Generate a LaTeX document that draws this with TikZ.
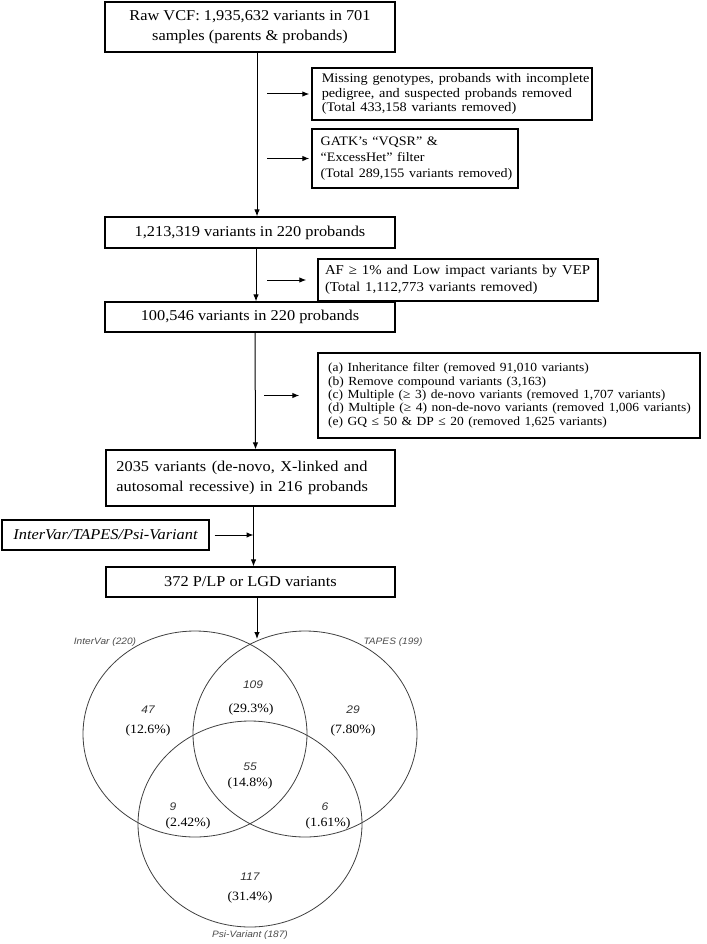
\documentclass[tikz,border=0pt]{standalone}
\usepackage{fontspec}
\setmainfont{Liberation Serif}
\newfontfamily\vsans{Liberation Sans}
\usetikzlibrary{arrows.meta}
\newcommand\fsz[2]{\fontsize{#1}{#2}\selectfont}
\begin{document}
\begin{tikzpicture}[x=1pt,y=-1pt,
  box/.style={draw, line width=1.2pt, inner sep=0pt, xscale=1.09},
  bigtxt/.style={font=\fsz{15}{20}, align=center},
  arr/.style={line width=1pt, -{Latex[length=7pt,width=5.5pt]}},
  venn/.style={line width=0.8pt, draw=black!75},
  vnum/.style={font=\vsans\itshape\fsz{11}{13}, text=black!80, inner sep=0pt, xscale=1.09},
  vpct/.style={font=\fsz{12.7}{14}, inner sep=0pt, xscale=1.09},
  vlab/.style={font=\vsans\itshape\fsz{9.3}{11}, text=black!70, inner sep=0pt, xscale=1.09}
]
\useasboundingbox (0,0) rectangle (706,944);

% main column boxes
\node[box, bigtxt, minimum width=266pt, minimum height=50pt] (b1) at (250,27)
  {Raw VCF: 1,935,632 variants in 701\\samples (parents \& probands)};
\node[box, bigtxt, minimum width=266pt, minimum height=31pt] (b4) at (250,232.5)
  {1,213,319 variants in 220 probands};
\node[box, bigtxt, minimum width=266pt, minimum height=30pt] (b6) at (250,317)
  {100,546 variants in 220 probands};
\node[box, font=\fsz{15}{20}, align=left, text width=246pt, minimum width=265pt, minimum height=56pt] (b7) at (250.5,478)
  {\makebox[246pt][s]{2035 variants (de-novo, X-linked and}\\autosomal recessive) in 216 probands};
\node[box, font=\fsz{15}{20}\itshape, align=center, minimum width=190pt, minimum height=30pt] (b9) at (105.5,535)
  {InterVar/TAPES/Psi-Variant};
\node[box, bigtxt, minimum width=265pt, minimum height=30pt] (b10) at (250.5,582)
  {372 P/LP or LGD variants};

% side boxes
\node[box, font=\fsz{13.1}{14.5}, align=left, inner xsep=9pt, text width=239pt, minimum width=257pt, minimum height=52pt] (b2) at (452,94)
  {\mbox{Missing genotypes, probands with incomplete}\\\mbox{pedigree, and suspected probands removed}\\\mbox{(Total 433,158 variants removed)}};
\node[box, font=\fsz{12.9}{16}, align=left, inner xsep=8pt, text width=173pt, minimum width=189pt, minimum height=59pt] (b3) at (415,158.5)
  {\mbox{GATK’s “VQSR” \&}\\\mbox{“ExcessHet” filter}\\\mbox{(Total 289,155 variants removed)}};
\node[box, font=\fsz{13.6}{17}, align=left, inner xsep=6.4pt, text width=244pt, minimum width=257pt, minimum height=42pt] (b5) at (458,280)
  {\mbox{AF ≥ 1\% and Low impact variants by VEP}\\\mbox{(Total 1,112,773 variants removed)}};
\node[box, font=\fsz{12.4}{13.4}, align=left, inner xsep=9.2pt, text width=332pt, minimum width=350.5pt, minimum height=85pt] (b8) at (509,395.5)
  {\mbox{(a) Inheritance filter (removed 91,010 variants)}\\
   \mbox{(b) Remove compound variants (3,163)}\\
   \mbox{(c) Multiple (≥ 3) de-novo variants (removed 1,707 variants)}\\
   \mbox{(d) Multiple (≥ 4) non-de-novo variants (removed 1,006 variants)}\\
   \mbox{(e) GQ ≤ 50 \& DP ≤ 20 (removed 1,625 variants)}};

% connectors
\draw[arr] ([xshift=7pt]b1.south) -- ([xshift=7pt]b4.north);
\draw[arr] ([xshift=-44pt]b2.west) -- ([xshift=-2pt]b2.west);
\draw[arr] ([xshift=-44pt]b3.west) -- ([xshift=-2pt]b3.west);
\draw[arr] ([xshift=6pt]b4.south) -- ([xshift=6pt]b6.north);
\draw[arr] ([xshift=-50pt]b5.west) -- ([xshift=-11pt]b5.west);
\draw[arr] ([xshift=5pt]b6.south) -- ([xshift=5pt]b7.north);
\draw[arr] ([xshift=-53pt]b8.west) -- ([xshift=-18pt]b8.west);
\draw[arr] ([xshift=3pt]b7.south) coordinate (t7) -- ([xshift=3pt]b10.north);
\draw[arr] ([xshift=5pt]b9.east) -- (b9.east -| t7);
\coordinate (vtop) at (257,639);
\draw[arr] ([xshift=6.5pt]b10.south) -- (vtop);

% Venn diagram
\coordinate (c1) at (195,734);
\coordinate (c2) at (305,734);
\coordinate (c3) at (250,824);
\draw[venn] (c1) ellipse [x radius=112pt, y radius=103pt];
\draw[venn] (c2) ellipse [x radius=112pt, y radius=103pt];
\draw[venn] (c3) ellipse [x radius=112pt, y radius=103pt];

\node[vlab] (l1) at (105,642) {InterVar (220)};
\node[vlab] (l2) at (393,642) {TAPES (199)};
\node[vlab] (l3) at (250,935) {Psi-Variant (187)};

\node[vnum] (n109) at (253,685) {109};
\node[vpct] (p109) at (251,709) {(29.3\%)};
\node[vnum] (n47) at (148,710) {47};
\node[vpct] (p47) at (148,730) {(12.6\%)};
\node[vnum] (n29) at (353,710) {29};
\node[vpct] (p29) at (353,730) {(7.80\%)};
\node[vnum] (n55) at (250,767) {55};
\node[vpct] (p55) at (250,783) {(14.8\%)};
\node[vnum] (n9) at (173,807) {9};
\node[vpct] (p9) at (188,823) {(2.42\%)};
\node[vnum] (n6) at (325,807) {6};
\node[vpct] (p6) at (328,823) {(1.61\%)};
\node[vnum] (n117) at (250,877) {117};
\node[vpct] (p117) at (250,897) {(31.4\%)};
\end{tikzpicture}
\end{document}
